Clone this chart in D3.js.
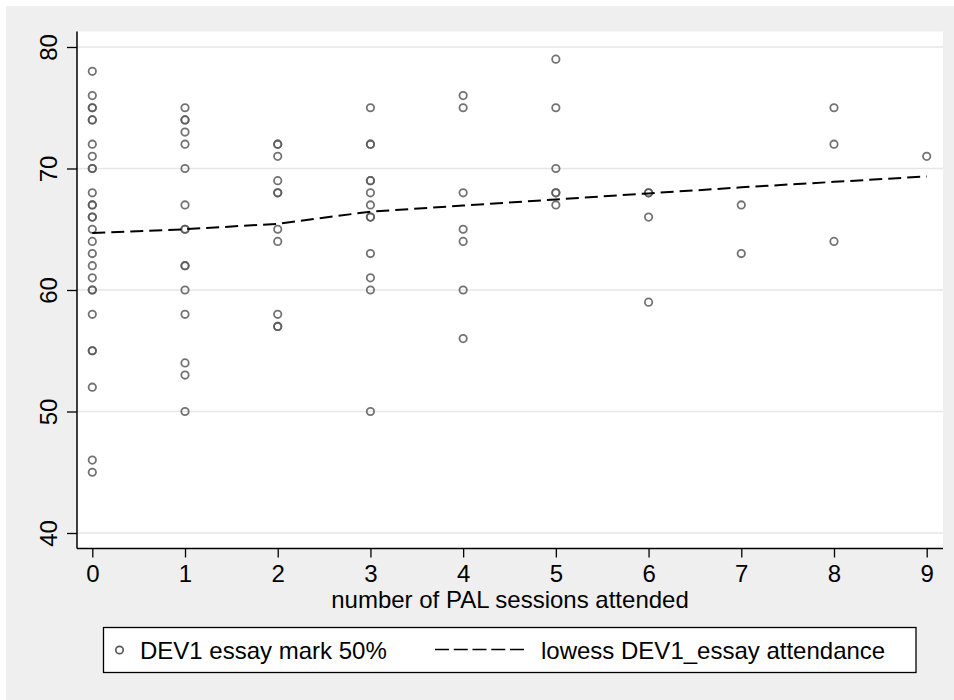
<!DOCTYPE html>
<html>
<head>
<meta charset="utf-8">
<script src="https://cdn.jsdelivr.net/npm/d3@7"></script>
<style>
  html, body { margin: 0; padding: 0; background: #ffffff; }
  svg { display: block; }
  text { font-family: "Liberation Sans", Arial, Helvetica, sans-serif; fill: #000; }
</style>
</head>
<body>
<svg id="chart" width="954" height="700"></svg>
<script>
// Essay marks (DEV1, out of 100) grouped by number of PAL sessions attended
const marks0 = [78, 76, 75, 75, 74, 74, 72, 71, 70, 70, 68, 67, 67, 66, 66, 65, 64, 63, 62, 61, 60, 60, 58, 55, 55, 52, 46, 45];
const marks1 = [75, 74, 74, 73, 72, 70, 67, 65, 65, 62, 62, 60, 58, 54, 53, 50];
const marks2 = [72, 72, 71, 69, 68, 68, 65, 64, 58, 57, 57];
const marks3 = [75, 72, 72, 69, 69, 68, 67, 66, 66, 63, 61, 60, 50];
const marks4 = [76, 75, 68, 65, 64, 60, 56];
const marks5 = [79, 75, 70, 68, 68, 67];
const marks6 = [68, 68, 66, 59];
const marks7 = [67, 63];
const marks8 = [75, 72, 64];
const marks9 = [71];

// Lowess smooth of essay mark on attendance, evaluated at each session count
const lowessX = [0, 1, 2, 3, 4, 5, 6, 7, 8, 9];
const lowessY = [64.7, 65.0, 65.45, 66.45, 66.95, 67.45, 67.95, 68.45, 68.9, 69.35];

const xTicks = [0, 1, 2, 3, 4, 5, 6, 7, 8, 9];
const yTicks = [40, 50, 60, 70, 80];

const xTitle = "number of PAL sessions attended";
const legendLabels = ["DEV1 essay mark 50%", "lowess DEV1_essay attendance"];

const byColumn = [marks0, marks1, marks2, marks3, marks4, marks5, marks6, marks7, marks8, marks9];
const points = byColumn.flatMap((arr, i) => arr.map(v => ({ x: i, y: v })));

const svg = d3.select("#chart");

// outer figure region
svg.append("rect").attr("x", 6).attr("y", 6).attr("width", 948).attr("height", 694)
  .attr("fill", "#efefef");

const plot = { left: 77, right: 943, top: 31.5, bottom: 548.5 };

svg.append("rect")
  .attr("x", plot.left).attr("y", plot.top)
  .attr("width", plot.right - plot.left).attr("height", plot.bottom - plot.top)
  .attr("fill", "#ffffff");

const x = d3.scaleLinear().domain([0, 9]).range([92.3, 926.7]);
const y = d3.scaleLinear().domain([40, 80]).range([533, 47]);

// horizontal grid
svg.append("g").selectAll("line").data(yTicks).join("line")
  .attr("x1", plot.left).attr("x2", plot.right)
  .attr("y1", d => y(d)).attr("y2", d => y(d))
  .attr("stroke", "#e6e6e6").attr("stroke-width", 1.5);

// y axis
const yAxis = svg.append("g").attr("transform", `translate(${plot.left},0)`)
  .call(d3.axisLeft(y).tickValues(yTicks).tickSize(10).tickPadding(0).tickSizeOuter(0));
yAxis.select(".domain").remove();
yAxis.selectAll(".tick line").attr("stroke", "#000").attr("stroke-width", 1.3);
yAxis.selectAll(".tick text")
  .attr("font-size", 24)
  .attr("x", 0).attr("dy", 0)
  .attr("text-anchor", "middle")
  .attr("transform", "translate(-20,0) rotate(-90)");
svg.append("line")
  .attr("x1", plot.left).attr("x2", plot.left)
  .attr("y1", plot.top).attr("y2", plot.bottom)
  .attr("stroke", "#000").attr("stroke-width", 1.5);

// x axis
const xAxis = svg.append("g").attr("transform", `translate(0,${plot.bottom})`)
  .call(d3.axisBottom(x).tickValues(xTicks).tickSize(9).tickPadding(0).tickSizeOuter(0));
xAxis.select(".domain").remove();
xAxis.selectAll(".tick line").attr("stroke", "#000").attr("stroke-width", 1.3);
xAxis.selectAll(".tick text")
  .attr("font-size", 24)
  .attr("y", 33).attr("dy", 0);
svg.append("line")
  .attr("x1", plot.left).attr("x2", plot.right)
  .attr("y1", plot.bottom).attr("y2", plot.bottom)
  .attr("stroke", "#000").attr("stroke-width", 1.5);

svg.append("text")
  .attr("x", (plot.left + plot.right) / 2).attr("y", 608)
  .attr("text-anchor", "middle").attr("font-size", 24)
  .text(xTitle);

// scatter of hollow circles
svg.append("g").selectAll("circle").data(points).join("circle")
  .attr("cx", d => x(d.x)).attr("cy", d => y(d.y)).attr("r", 3.7)
  .attr("fill", "none").attr("stroke", "#5a5a5a").attr("stroke-width", 1.8)
  .attr("stroke-opacity", 0.85);

// lowess curve
const line = d3.line().x(d => x(d[0])).y(d => y(d[1]));
svg.append("path")
  .datum(d3.zip(lowessX, lowessY))
  .attr("d", line)
  .attr("fill", "none").attr("stroke", "#000").attr("stroke-width", 2)
  .attr("stroke-dasharray", "13,6");

// legend
const lg = svg.append("g");
lg.append("rect").attr("x", 103.5).attr("y", 627.5).attr("width", 812.5).attr("height", 45)
  .attr("fill", "#ffffff").attr("stroke", "#000").attr("stroke-width", 1.3);
lg.append("circle").attr("cx", 119.5).attr("cy", 650).attr("r", 3.7)
  .attr("fill", "none").attr("stroke", "#5a5a5a").attr("stroke-width", 1.7);
lg.append("text").attr("x", 140).attr("y", 659).attr("font-size", 24).text(legendLabels[0]);
lg.append("line").attr("x1", 435).attr("x2", 524).attr("y1", 649.5).attr("y2", 649.5)
  .attr("stroke", "#000").attr("stroke-width", 1.4).attr("stroke-dasharray", "14,4.75");
lg.append("text").attr("x", 541).attr("y", 659).attr("font-size", 24).text(legendLabels[1]);
</script>
</body>
</html>
